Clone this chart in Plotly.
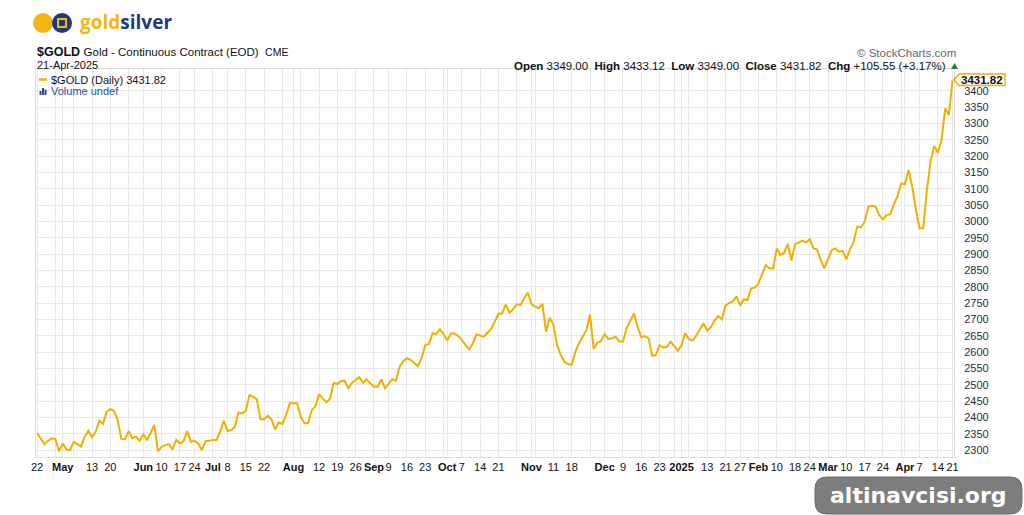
import pandas as pd
import plotly.graph_objects as go

# ---------------- data ----------------
holidays = ["2024-05-27", "2024-06-19", "2024-07-04", "2024-09-02", "2024-11-28",
            "2024-12-25", "2025-01-01", "2025-01-20", "2025-02-17", "2025-04-18"]
dates = [d for d in pd.bdate_range("2024-04-22", "2025-04-21")
         if d.strftime("%Y-%m-%d") not in holidays]

closes = [
    2352, 2333, 2318, 2328, 2336, 2334, 2296, 2320, 2302, 2300,
    2325, 2318, 2311, 2341, 2359, 2339, 2356, 2390, 2380, 2417,
    2425, 2420, 2392, 2334, 2333, 2358, 2336, 2341, 2328, 2348,
    2331, 2352, 2377, 2296, 2310, 2315, 2318, 2302, 2331, 2320,
    2327, 2358, 2325, 2328, 2320, 2300, 2327, 2328, 2331, 2331,
    2356, 2390, 2358, 2361, 2371, 2415, 2412, 2420, 2468, 2463,
    2455, 2394, 2394, 2405, 2394, 2363, 2384, 2380, 2407, 2443,
    2443, 2443, 2402, 2382, 2382, 2422, 2433, 2471, 2458, 2446,
    2458, 2506, 2502, 2511, 2511, 2489, 2506, 2514, 2523, 2506,
    2516, 2504, 2494, 2494, 2516, 2489, 2504, 2517, 2512, 2555,
    2572, 2581, 2576, 2566, 2557, 2581, 2621, 2625, 2657, 2655,
    2670, 2655, 2635, 2657, 2657, 2649, 2637, 2621, 2608, 2627,
    2654, 2650, 2647, 2659, 2671, 2693, 2718, 2718, 2746, 2720,
    2731, 2746, 2744, 2764, 2782, 2747, 2739, 2734, 2747, 2662,
    2705, 2683, 2621, 2591, 2570, 2563, 2561, 2601, 2627, 2647,
    2667, 2715, 2609, 2628, 2634, 2655, 2640, 2641, 2647, 2632,
    2632, 2673, 2695, 2718, 2677, 2645, 2649, 2642, 2588, 2591,
    2621, 2614, 2616, 2632, 2618, 2604, 2621, 2657, 2639, 2635,
    2650, 2668, 2688, 2665, 2676, 2696, 2710, 2700, 2742, 2750,
    2755, 2770, 2742, 2761, 2759, 2795, 2797, 2810, 2841, 2866,
    2856, 2856, 2917, 2897, 2904, 2931, 2880, 2931, 2935, 2941,
    2935, 2946, 2917, 2914, 2882, 2856, 2884, 2912, 2917, 2907,
    2909, 2884, 2914, 2938, 2984, 2982, 2999, 3045, 3048, 3045,
    3019, 3006, 3019, 3022, 3053, 3078, 3116, 3114, 3157, 3106,
    3035, 2979, 2979, 3096, 3183, 3231, 3210, 3249, 3346, 3326.27,
    3431.82,
]

tick_dates = ["2024-04-22", "2024-05-01", "2024-05-13", "2024-05-20", "2024-06-03",
              "2024-06-10", "2024-06-17", "2024-06-24", "2024-07-01", "2024-07-08",
              "2024-07-15", "2024-07-22", "2024-08-01", "2024-08-12", "2024-08-19",
              "2024-08-26", "2024-09-03", "2024-09-09", "2024-09-16", "2024-09-23",
              "2024-10-01", "2024-10-07", "2024-10-14", "2024-10-21", "2024-11-01",
              "2024-11-11", "2024-11-18", "2024-12-02", "2024-12-09", "2024-12-16",
              "2024-12-23", "2025-01-02", "2025-01-13", "2025-01-21", "2025-01-27",
              "2025-02-03", "2025-02-10", "2025-02-18", "2025-02-24", "2025-03-03",
              "2025-03-10", "2025-03-17", "2025-03-24", "2025-04-01", "2025-04-07",
              "2025-04-14", "2025-04-21"]
tick_labels = ["22", "<b>May</b>", "13", "20", "<b>Jun</b>", "10", "17", "24", "<b>Jul</b>", "8",
               "15", "22", "<b>Aug</b>", "12", "19", "26", "<b>Sep</b>", "9", "16", "23",
               "<b>Oct</b>", "7", "14", "21", "<b>Nov</b>", "11", "18", "<b>Dec</b>", "9", "16",
               "23", "<b>2025</b>", "13", "21", "27", "<b>Feb</b>", "10", "18", "24", "<b>Mar</b>",
               "10", "17", "24", "<b>Apr</b>", "7", "14", "21"]

y_ticks = list(range(2300, 3401, 50))

header_symbol = "$GOLD"
header_name = "Gold - Continuous Contract (EOD)"
header_exch = "CME"
header_date = "21-Apr-2025"
ohlc = {"Open": "3349.00", "High": "3433.12", "Low": "3349.00", "Close": "3431.82"}
chg_text = "+105.55 (+3.17%)"
last_close = closes[-1]

# ---------------- geometry ----------------
W_PX, H_PX = 1024, 515
L, R, T, B = 36, 954, 69, 457
PW, PH = R - L, B - T
Y0, Y1 = 2278.6, 3466.4


def px(xp, yp):
    return (xp - L) / PW, (B - yp) / PH


def P(xp, yp):
    a_, b_ = px(xp, yp)
    return f"{a_:.5f},{b_:.5f}"


def path_px(points):
    return " ".join(("M" if k == 0 else "L") + P(xp, yp) for k, (xp, yp) in enumerate(points)) + " Z"


idx = {d.strftime("%Y-%m-%d"): i for i, d in enumerate(dates)}
xs = list(range(len(dates)))
grid_pos = []
for i, d in enumerate(dates):
    if i == 0 or d.isocalendar()[1] != dates[i - 1].isocalendar()[1] or d.month != dates[i - 1].month:
        grid_pos.append(i)

GOLD = "#F0B000"
GRID = "#E8E8EC"
FONT = "Liberation Sans, Arial, sans-serif"

fig = go.Figure()
fig.add_trace(go.Scatter(
    x=xs, y=closes, mode="lines",
    line=dict(color=GOLD, width=2),
    customdata=[d.strftime("%d-%b-%Y") for d in dates],
    hovertemplate="%{customdata}: %{y:.2f}<extra></extra>",
    showlegend=False,
))

shapes = []
annotations = []

# logo
for cx, cy, col in [(43, 23, "#F5B50F"), (62, 23, "#1F3A7A")]:
    a0, b0 = px(cx - 10, cy + 10)
    a1, b1 = px(cx + 10, cy - 10)
    shapes.append(dict(type="circle", xref="paper", yref="paper", x0=a0, y0=b0, x1=a1, y1=b1,
                       fillcolor=col, line=dict(width=0), layer="above"))
shapes.append(dict(type="path", xref="paper", yref="paper",
                   path=path_px([(58, 19), (66, 19), (66, 27), (58, 27)]),
                   fillcolor="rgba(0,0,0,0)", line=dict(color="#F5B50F", width=2), layer="above"))
lx, ly = px(78, 22)
annotations.append(dict(xref="paper", yref="paper", x=lx, y=ly, xanchor="left", yanchor="middle",
                        showarrow=False,
                        text="<b><span style='color:#F5B50F'>gold</span><span style='color:#1F3A7A'>silver</span></b>",
                        font=dict(family="Open Sans, sans-serif", size=19)))

# header left
a, b = px(35, 52)
annotations.append(dict(xref="paper", yref="paper", x=a, y=b, xanchor="left", yanchor="middle",
                        showarrow=False,
                        text=f"<b>{header_symbol}</b> <span style='font-size:11.5px'>{header_name}</span> "
                             f"<span style='font-size:10.5px'> {header_exch}</span>",
                        font=dict(family=FONT, size=12.5, color="#111111")))
a, b = px(35, 65)
annotations.append(dict(xref="paper", yref="paper", x=a, y=b, xanchor="left", yanchor="middle",
                        showarrow=False, text=header_date,
                        font=dict(family=FONT, size=11, color="#111111")))
# legend entries
a0, b0 = px(39, 79.5)
a1, _ = px(47, 79.5)
shapes.append(dict(type="line", xref="paper", yref="paper", x0=a0, x1=a1, y0=b0, y1=b0,
                   line=dict(color=GOLD, width=2.5)))
a, b = px(49, 79.5)
annotations.append(dict(xref="paper", yref="paper", x=a, y=b, xanchor="left", yanchor="middle",
                        showarrow=False, text=f"{header_symbol} (Daily) {last_close:.2f}",
                        font=dict(family=FONT, size=11, color="#111111")))
for bx, bh in [(39.5, 4), (42, 7), (44.5, 5.5)]:
    shapes.append(dict(type="path", xref="paper", yref="paper",
                       path=path_px([(bx, 95), (bx + 2, 95), (bx + 2, 95 - bh), (bx, 95 - bh)]),
                       fillcolor="#2B4C9B", line=dict(width=0)))
a, b = px(49, 91)
annotations.append(dict(xref="paper", yref="paper", x=a, y=b, xanchor="left", yanchor="middle",
                        showarrow=False, text="Volume undef",
                        font=dict(family=FONT, size=11, color="#1F4BA5")))

# header right
a, b = px(958, 53)
annotations.append(dict(xref="paper", yref="paper", x=a, y=b, xanchor="right", yanchor="middle",
                        showarrow=False, text="© StockCharts.com",
                        font=dict(family=FONT, size=11.5, color="#666672")))
ohlc_text = "  ".join(f"<b>{k}</b> {v}" for k, v in ohlc.items()) + f"  <b>Chg</b> {chg_text}"
a, b = px(948, 66)
annotations.append(dict(xref="paper", yref="paper", x=a, y=b, xanchor="right", yanchor="middle",
                        showarrow=False, text=ohlc_text,
                        font=dict(family=FONT, size=11.5, color="#111111")))
shapes.append(dict(type="path", xref="paper", yref="paper",
                   path=path_px([(951, 69), (958, 69), (954.5, 63)]),
                   fillcolor="#2E7D32", line=dict(width=0)))

# last value callout (y in data units)
dv = 5.8 * (Y1 - Y0) / PH
yc = last_close + 0.5 * (Y1 - Y0) / PH
pa, _ = px(954, 0)
pb, _ = px(959, 0)
pc, _ = px(1005, 0)
shapes.append(dict(type="path", xref="paper", yref="y",
                   path=f"M{pa:.5f},{yc} L{pb:.5f},{yc + dv} L{pc:.5f},{yc + dv} "
                        f"L{pc:.5f},{yc - dv} L{pb:.5f},{yc - dv} Z",
                   fillcolor="#FFFFFF", line=dict(color=GOLD, width=1.5), layer="above"))
a, _ = px(982, 0)
annotations.append(dict(xref="paper", yref="y", x=a, y=yc, xanchor="center", yanchor="middle",
                        showarrow=False, text=f"<b>{last_close:.2f}</b>", borderpad=0,
                        font=dict(family=FONT, size=11.5, color="#111111")))

# watermark
r = 12
x0w, x1w, y0w, y1w = 815, 1022, 477, 514
wpath = (f"M{P(x0w + r, y0w)} L{P(x1w - r, y0w)} Q{P(x1w, y0w)} {P(x1w, y0w + r)} "
         f"L{P(x1w, y1w - r)} Q{P(x1w, y1w)} {P(x1w - r, y1w)} L{P(x0w + r, y1w)} "
         f"Q{P(x0w, y1w)} {P(x0w, y1w - r)} L{P(x0w, y0w + r)} Q{P(x0w, y0w)} {P(x0w + r, y0w)} Z")
shapes.append(dict(type="path", xref="paper", yref="paper", path=wpath,
                   fillcolor="rgba(118,118,118,0.95)", line=dict(color="#6A6A6A", width=1), layer="above"))
a, b = px(918, 495)
annotations.append(dict(xref="paper", yref="paper", x=a, y=b, xanchor="center", yanchor="middle",
                        showarrow=False, text="<b>altinavcisi.org</b>",
                        font=dict(family="DejaVu Sans, sans-serif", size=22, color="#FFFFFF")))

fig.update_layout(
    width=W_PX, height=H_PX,
    margin=dict(l=L, r=W_PX - R, t=T, b=H_PX - B, pad=0),
    paper_bgcolor="#FFFFFF", plot_bgcolor="#FFFFFF",
    shapes=shapes, annotations=annotations,
    showlegend=False,
    xaxis=dict(
        range=[-0.3, len(dates) - 0.6],
        tickmode="array", tickvals=[idx[d] for d in tick_dates], ticktext=tick_labels,
        tickangle=0,
        tickfont=dict(family=FONT, size=11, color="#111111"),
        showgrid=True, gridcolor=GRID, gridwidth=1,
        minor=dict(tickmode="array", tickvals=grid_pos, showgrid=True, gridcolor=GRID, gridwidth=1),
        showline=True, linecolor="#DDDDDD", mirror=True,
        zeroline=False, ticks="", fixedrange=True,
    ),
    yaxis=dict(
        side="right", range=[Y0, Y1],
        tickmode="array", tickvals=y_ticks, ticktext=[str(v) for v in y_ticks],
        tickfont=dict(family=FONT, size=11, color="#2A2A3C"),
        showgrid=True, gridcolor=GRID, gridwidth=1,
        showline=True, linecolor="#DDDDDD", mirror=True,
        zeroline=False, ticks="", ticklabelstandoff=7, fixedrange=True,
    ),
)

fig.write_html("out.html")
